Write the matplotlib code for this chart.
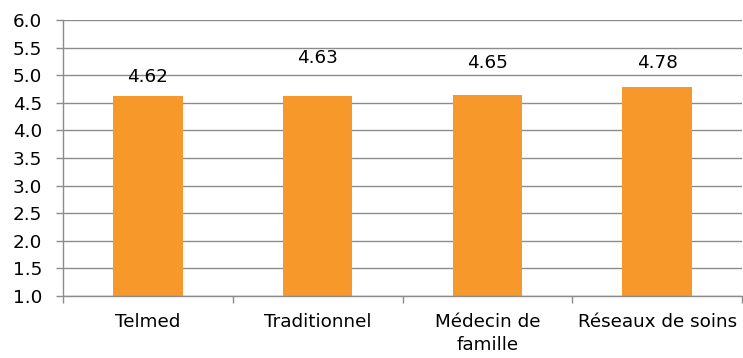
# Importamos las librerías necesarias
import numpy as np
import matplotlib.pyplot as plt

# Catégories et scores moyens
categories = ["Telmed", "Traditionnel", "Médecin de\nfamille", "Réseaux de soins"]
scores = [4.62, 4.63, 4.65, 4.78]
y_ticks = [1.0, 1.5, 2.0, 2.5, 3.0, 3.5, 4.0, 4.5, 5.0, 5.5, 6.0]

# Décalage vertical des étiquettes de valeur (en points)
decalages = [13.7, 27, 23, 17.3]

plt.rcParams['font.family'] = ['DejaVu Sans']
gris = '#8c8c8c'
orange = '#F7982A'

fig = plt.figure(figsize=(7.43, 3.58), dpi=100)
ax = fig.add_axes([63 / 743, 1 - 296 / 358, 679 / 743, 276 / 358])

x = np.arange(len(categories))
barres = ax.bar(x, scores, width=0.41, bottom=0, color=orange, zorder=3)

# Étiquettes de valeur au-dessus des barres
for xi, v, d in zip(x, scores, decalages):
    ax.annotate(f"{v:.2f}", (xi, v), xytext=(0, d), textcoords='offset points',
                ha='center', va='center', fontsize=13.2, color='black')

ax.set_ylim(1.0, 6.0)
ax.set_xlim(-0.5, len(categories) - 0.5)
ax.set_yticks(y_ticks)
ax.set_yticklabels([f"{t:.1f}" for t in y_ticks], fontsize=13.2)

# Graduations de l'axe X entre les catégories
ax.set_xticks(np.arange(-0.5, len(categories), 1.0))
ax.set_xticklabels([])
ax.set_xticks(x, minor=True)
ax.set_xticklabels(categories, minor=True, fontsize=13.2, linespacing=1.35)
ax.tick_params(axis='x', which='minor', length=0, pad=12)
ax.tick_params(axis='x', which='major', length=5, width=1, color=gris, direction='out')
ax.tick_params(axis='y', length=5, width=1, color=gris, direction='out', pad=10)

# Grille horizontale
ax.yaxis.grid(True, color=gris, linewidth=1)
ax.set_axisbelow(True)

for cote in ['top', 'right']:
    ax.spines[cote].set_visible(False)
for cote in ['left', 'bottom']:
    ax.spines[cote].set_color(gris)
    ax.spines[cote].set_linewidth(1)
    ax.spines[cote].set_zorder(4)

fig.savefig('out.png', dpi=100)
